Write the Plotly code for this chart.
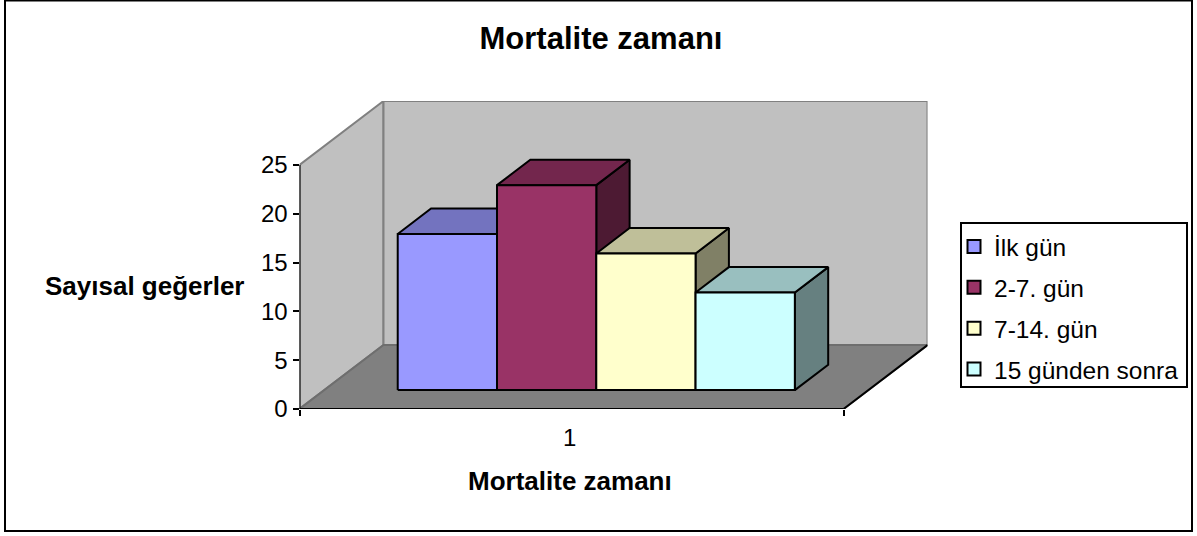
import plotly.graph_objects as go

# Data
categories = ["İlk gün", "2-7. gün", "7-14. gün", "15 günden sonra"]
values = [16, 21, 14, 10]
y_ticks = [0, 5, 10, 15, 20, 25]
x_label = "1"
title = "Mortalite zamanı"
x_title = "Mortalite zamanı"
y_title = "Sayısal geğerler"

# Colours: front, top, side
front = ["#9999FF", "#993366", "#FFFFCC", "#CCFFFF"]
top = ["#7373BF", "#73264D", "#BFBF99", "#99BFBF"]
side = ["#4D4D80", "#4D1A33", "#808066", "#668080"]

W, H = 1197, 536
FONT = "Liberation Sans, Arial, sans-serif"

# Pixel scale of the axes, used for the domains
PX_X0, PX_X1 = 299.5, 843.5      # category axis 0..1
PX_Y0, PX_Y25 = 409, 165         # value axis 0..25
PX_DEPTH_X, PX_DEPTH_Y = 84, 64  # shift of the back wall

# Oblique projection: depth 0..1 shifts a point right and up in axis units
YMAX = 25
DX = PX_DEPTH_X / (PX_X1 - PX_X0)
DY = PX_DEPTH_Y / ((PX_Y0 - PX_Y25) / YMAX)
D0, D1 = 0.295, 0.692
BAR_START, BAR_W = 0.135, 0.1825


def proj(x, v, d):
    return x + d * DX, v + d * DY


def poly(points, fill, line, lw=2):
    pts = [proj(*p) for p in points]
    pts.append(pts[0])
    return go.Scatter(
        x=[p[0] for p in pts], y=[p[1] for p in pts], mode="lines", fill="toself",
        fillcolor=fill, line=dict(color=line, width=lw), cliponaxis=False,
        showlegend=False, hoverinfo="skip")


def axis_line(xs, ys, lw=2):
    return go.Scatter(x=xs, y=ys, mode="lines", line=dict(color="#000000", width=lw),
                      cliponaxis=False, showlegend=False, hoverinfo="skip")


fig = go.Figure()
# Walls and floor
fig.add_trace(poly([(0, 0, 0), (0, 0, 1), (0, YMAX, 1), (0, YMAX, 0)], "#C0C0C0", "#808080"))
fig.add_trace(poly([(0, 0, 1), (1, 0, 1), (1, YMAX, 1), (0, YMAX, 1)], "#C0C0C0", "#808080"))
fig.add_trace(poly([(0, 0, 0), (1, 0, 0), (1, 0, 1), (0, 0, 1)], "#808080", "#6E6E6E"))
fx, fy = proj(1, 0, 0)
bx, by = proj(1, 0, 1)
fig.add_trace(axis_line([fx, bx], [fy, by]))

# Bars
for i, (name, v) in enumerate(zip(categories, values)):
    x0 = BAR_START + i * BAR_W
    x1 = x0 + BAR_W
    fig.add_trace(poly([(x1, 0, D0), (x1, 0, D1), (x1, v, D1), (x1, v, D0)], side[i], "#000000"))
    fig.add_trace(poly([(x0, v, D0), (x1, v, D0), (x1, v, D1), (x0, v, D1)], top[i], "#000000"))
    fig.add_trace(poly([(x0, 0, D0), (x1, 0, D0), (x1, v, D0), (x0, v, D0)], front[i], "#000000"))
    fig.add_trace(go.Scatter(
        x=[None], y=[None], mode="markers", name=name, legendgroup=name,
        marker=dict(symbol="square", size=13, color=front[i], line=dict(color="#000000", width=2))))

# Axis lines, only as long as the front edges
fig.add_trace(axis_line([0, 0], [0, YMAX]))
fig.add_trace(axis_line([0, 1], [0, 0]))

fig.update_layout(
    width=W, height=H, margin=dict(l=0, r=0, t=0, b=0),
    paper_bgcolor="#FFFFFF", plot_bgcolor="rgba(0,0,0,0)",
    font=dict(family=FONT, size=24, color="#000000"),
    title=dict(text=title, x=601 / W, xanchor="center", y=1 - 38 / H, yanchor="middle",
               font=dict(family=FONT, size=31, weight="bold")),
    xaxis=dict(domain=[PX_X0 / W, (PX_X1 + PX_DEPTH_X) / W], range=[0, 1 + DX],
               tickvals=[0, 1], ticktext=["", ""], automargin=False,
               ticks="outside", ticklen=6, tickwidth=2, tickcolor="#000000",
               showline=False, showgrid=False, zeroline=False, fixedrange=True),
    yaxis=dict(domain=[(H - PX_Y0) / H, (H - PX_Y25 + PX_DEPTH_Y) / H], range=[0, YMAX + DY],
               tickvals=y_ticks, ticks="outside", ticklen=6, tickwidth=2, tickcolor="#000000",
               tickfont=dict(size=24), showline=False, showgrid=False, zeroline=False,
               automargin=False, fixedrange=True),
    legend=dict(x=954 / W, xanchor="left", y=1 - 224 / H, yanchor="top",
                bgcolor="rgba(0,0,0,0)", borderwidth=0,
                font=dict(family=FONT, size=24.5), tracegroupgap=6, itemwidth=30,
                traceorder="grouped"),
    annotations=[
        dict(text=x_label, xref="x", x=0.5, yref="paper", y=1 - 437 / H, yanchor="middle",
             showarrow=False, xshift=-2, font=dict(size=24)),
        dict(text=f"<b>{x_title}</b>", xref="x", x=0.5, yref="paper", y=1 - 481 / H,
             yanchor="middle", showarrow=False, font=dict(size=26), xshift=-2),
        dict(text=f"<b>{y_title}</b>", xref="paper", x=144 / W, xanchor="center", yref="paper",
             y=1 - 286 / H, yanchor="middle", showarrow=False, font=dict(size=26)),
    ],
    shapes=[
        dict(type="rect", xref="paper", yref="paper", x0=5 / W, x1=1192 / W, y0=1 - 531 / H,
             y1=1 - 0.5 / H, line=dict(color="#000000", width=2), layer="below"),
        dict(type="rect", xref="paper", yref="paper", x0=961 / W, x1=1187 / W, y0=1 - 387 / H,
             y1=1 - 223 / H, line=dict(color="#000000", width=2), fillcolor="#FFFFFF", layer="below"),
    ],
)

fig.write_html("out.html", post_script="document.body.style.margin='0';",
               config={"displayModeBar": False})
